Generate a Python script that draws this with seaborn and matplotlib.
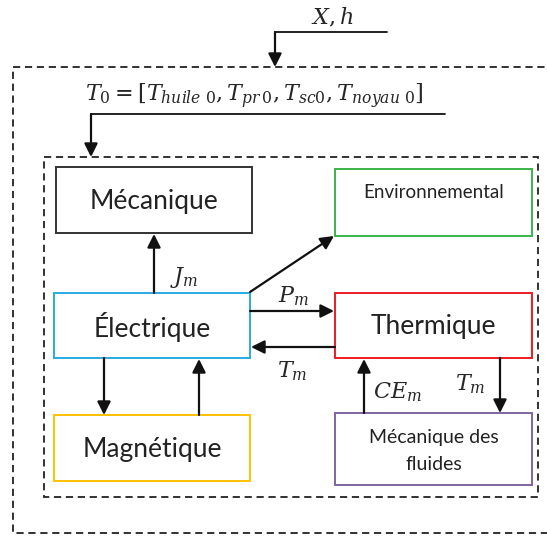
import matplotlib
matplotlib.use("Agg")
import matplotlib.pyplot as plt
import seaborn as sns
from matplotlib.patches import Rectangle

# blocks of the multiphysics model
blocks = ["Mécanique", "Environnemental", "Électrique", "Thermique",
          "Magnétique", "Mécanique des\nfluides"]
block_colors = ["#333333", "#3cb44b", "#29abe2", "#ed1c24", "#ffc000", "#8064a2"]
block_sizes = [19, 13.5, 19, 19, 19, 14]

# exchanged quantities
inputs = ["$X, h$", r"$T_0 = [T_{huile\ 0}, T_{pr\,0}, T_{sc0}, T_{noyau\ 0}]$"]
flux_labels = ["$J_m$", "$P_m$", "$T_m$", "$CE_m$", "$T_m$"]

# layout in pixel units (x0, y0, x1, y1), y going down
boxes = {
    "Mécanique": (56, 167, 252, 233),
    "Environnemental": (335, 169, 532, 236),
    "Électrique": (54, 293, 250, 358),
    "Thermique": (335, 293, 532, 358),
    "Magnétique": (54, 415, 250, 481),
    "Mécanique des\nfluides": (335, 413, 532, 485),
}

sns.set_theme(style="white")
plt.rcParams['font.family'] = ['Lato', 'DejaVu Sans']
plt.rcParams['mathtext.fontset'] = 'dejavuserif'

fig = plt.figure(figsize=(5.47, 5.37), dpi=100)
ax = fig.add_axes([0, 0, 1, 1])
ax.set_xlim(0, 547)
ax.set_ylim(537, 0)
ax.axis('off')

dash = dict(fill=False, ec="#222222", lw=1.3, ls=(0, (4, 2.6)))
ax.add_patch(Rectangle((13, 67), 560, 466, **dash))
ax.add_patch(Rectangle((44, 157), 494, 340, **dash))

for name, col, fs in zip(blocks, block_colors, block_sizes):
    x0, y0, x1, y1 = boxes[name]
    ax.add_patch(Rectangle((x0, y0), x1 - x0, y1 - y0, fill=False, ec=col, lw=1.4))
    cx = (x0 + x1) / 2
    if name == "Environnemental":
        ax.text(cx, 193, name, ha='center', va='center', fontsize=fs, color="#222222")
    elif "fluides" in name:
        ax.text(cx, 451, name, ha='center', va='center', fontsize=fs,
                color="#222222", linespacing=1.75)
    else:
        ax.text(cx, (y0 + y1) / 2 + 1, name, ha='center', va='center', fontsize=fs,
                color="#222222")


def arrow(x0, y0, x1, y1):
    ax.annotate("", xy=(x1, y1), xytext=(x0, y0),
                arrowprops=dict(arrowstyle="-|>", color="#111111", lw=1.6,
                                mutation_scale=20, shrinkA=0, shrinkB=0))


# inputs from outside
ax.plot([387, 275], [32, 32], color="#111111", lw=1.3)
arrow(275, 32, 275, 67)
ax.text(332, 17, inputs[0], ha='center', va='center', fontsize=16)
ax.plot([445, 91], [114, 114], color="#111111", lw=1.3)
arrow(91, 114, 91, 157)
ax.text(254, 96, inputs[1], ha='center', va='center', fontsize=16)

# couplings
arrow(154, 293, 154, 234)
ax.text(184, 277, flux_labels[0], ha='center', va='center', fontsize=16)
arrow(250, 292, 334, 236)
arrow(250, 311, 334, 311)
ax.text(293, 296, flux_labels[1], ha='center', va='center', fontsize=16)
arrow(335, 347, 251, 347)
ax.text(292, 371, flux_labels[2], ha='center', va='center', fontsize=16)
arrow(104, 358, 104, 415)
arrow(199, 415, 199, 359)
arrow(364, 413, 364, 359)
ax.text(397, 392, flux_labels[3], ha='center', va='center', fontsize=16)
arrow(500, 358, 500, 413)
ax.text(470, 384, flux_labels[4], ha='center', va='center', fontsize=16)

fig.savefig("out.png", dpi=100)
